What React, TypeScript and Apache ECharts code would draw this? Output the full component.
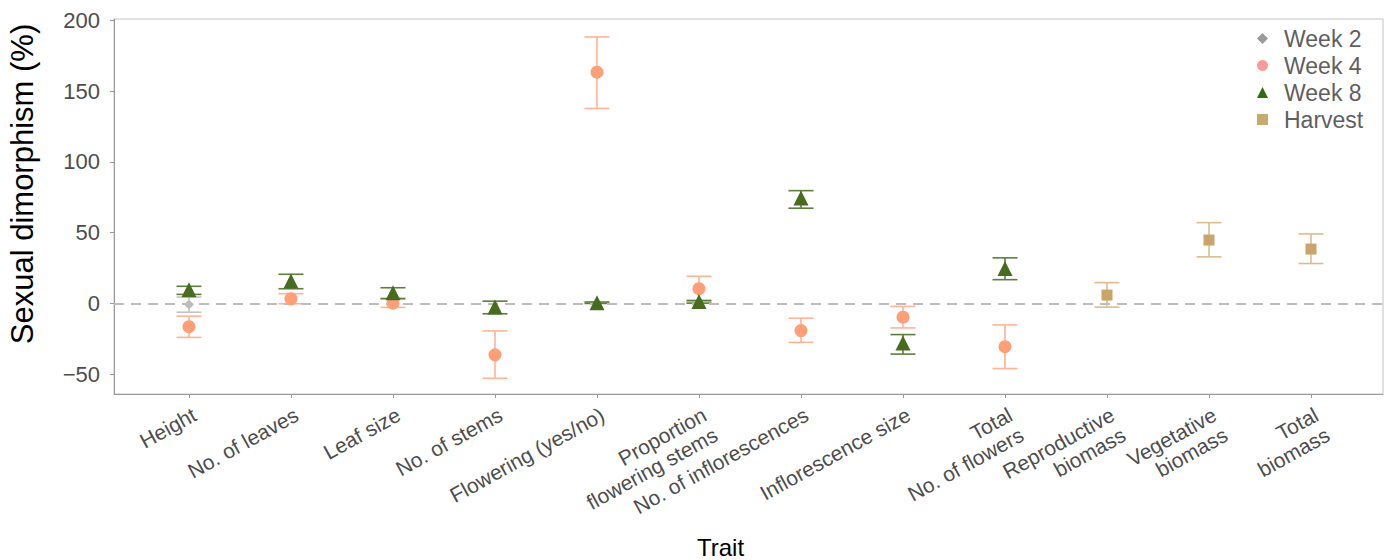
import React, { useEffect, useRef } from "react";
import * as echarts from "echarts";

const categories = [
  "Height",
  "No. of leaves",
  "Leaf size",
  "No. of stems",
  "Flowering (yes/no)",
  "Proportion\nflowering stems",
  "No. of inflorescences",
  "Inflorescence size",
  "Total\nNo. of flowers",
  "Reproductive\nbiomass",
  "Vegetative\nbiomass",
  "Total\nbiomass",
];

const yTicks = [-50, 0, 50, 100, 150, 200];

// [category index, mean, lower, upper]
const week2 = [[0, -0.7, -6.2, 4.5]];
const week4 = [
  [0, -16.4, -24, -9],
  [1, 3.3, -0.2, 6.9],
  [2, 0.2, -2.8, 3.8],
  [3, -36.3, -52.9, -19.4],
  [4, 163.4, 137.8, 188.3],
  [5, 10.4, 1.4, 19.2],
  [6, -19.2, -27.5, -10.4],
  [7, -9.7, -17.3, -2.1],
  [8, -30.6, -46, -15.2],
];
const week8 = [
  [0, 9.7, 6.4, 12.1],
  [1, 15.9, 10.4, 20.6],
  [2, 7.6, 3.3, 11.1],
  [3, -2.6, -7.3, 1.6],
  [4, 0.5, 0, 1],
  [5, 1.4, 0.2, 2.1],
  [6, 74.5, 67.3, 79.7],
  [7, -28, -35.8, -22],
  [8, 24.7, 16.8, 32.2],
];
const harvest = [
  [9, 5.9, -2.6, 14.7],
  [10, 44.8, 32.9, 57.1],
  [11, 38.4, 28.2, 49.1],
];

const FONT = "Liberation Sans, Arial, Helvetica, sans-serif";

function errorBars(name: string, data: number[][], color: string, z: number) {
  return {
    name: name + " SE",
    type: "custom",
    z,
    silent: true,
    data: data.map((d) => [d[0], d[2], d[3]]),
    encode: { x: 0, y: [1, 2] },
    renderItem: (params: any, api: any) => {
      const x = api.value(0);
      const lo = api.coord([x, api.value(1)]);
      const hi = api.coord([x, api.value(2)]);
      const half = 12.5;
      const style = { stroke: color, lineWidth: 1.6 };
      return {
        type: "group",
        children: [
          { type: "line", shape: { x1: lo[0], y1: lo[1], x2: hi[0], y2: hi[1] }, style },
          { type: "line", shape: { x1: lo[0] - half, y1: lo[1], x2: lo[0] + half, y2: lo[1] }, style },
          { type: "line", shape: { x1: hi[0] - half, y1: hi[1], x2: hi[0] + half, y2: hi[1] }, style },
        ],
      };
    },
  };
}

function points(name: string, data: number[][], symbol: string, size: number, color: string, z: number) {
  return {
    name,
    type: "scatter",
    z,
    symbol,
    symbolSize: size,
    itemStyle: { color, opacity: 1 },
    data: data.map((d) => [d[0], d[1]]),
  };
}

export default function App() {
  const ref = useRef<HTMLDivElement>(null);
  useEffect(() => {
    if (!ref.current) return;
    const chart = echarts.init(ref.current, undefined, { renderer: "svg" });
    const option: any = {
      animation: false,
      backgroundColor: "#ffffff",
      grid: {
        left: 114,
        right: 9,
        top: 19,
        bottom: 166,
        containLabel: false,
        outerBoundsMode: "none",
        show: true,
        borderColor: "#c4c4c4",
        borderWidth: 1,
      },
      legend: {
        orient: "vertical",
        left: 1252,
        top: 22,
        itemGap: 4,
        itemWidth: 11,
        itemHeight: 11,
        textStyle: { fontSize: 23, color: "#5f5f5f", fontFamily: FONT, padding: [0, 0, 0, 11] },
        data: [
          { name: "Week 2", icon: "diamond", itemStyle: { color: "#9a9a9a" } },
          { name: "Week 4", icon: "circle", itemStyle: { color: "#f99a9a" } },
          { name: "Week 8", icon: "triangle", itemStyle: { color: "#2f6b10" } },
          { name: "Harvest", icon: "rect", itemStyle: { color: "#c8aa70" } },
        ],
      },
      xAxis: {
        type: "value",
        min: -0.735,
        max: 11.706,
        name: "Trait",
        nameLocation: "middle",
        nameGap: 141,
        nameTextStyle: { fontSize: 24, color: "#000000", fontFamily: FONT, padding: [0, 56, 0, 0] },
        axisLine: { show: true, onZero: false, lineStyle: { color: "#9a9a9a", width: 1 } },
        axisTick: {
          show: true,
          length: 4,
          customValues: categories.map((_, i) => i),
          lineStyle: { color: "#9a9a9a" },
        },
        axisLabel: {
          customValues: categories.map((_, i) => i),
          rotate: 29,
          margin: 9,
          align: "right",
          verticalAlign: "top",
          fontSize: 21,
          lineHeight: 23,
          color: "#4d4d4d",
          fontFamily: FONT,
          formatter: (v: number) => categories[Math.round(v)],
        },
        splitLine: { show: false },
      },
      yAxis: {
        type: "value",
        min: -64,
        max: 201,
        name: "Sexual dimorphism (%)",
        nameLocation: "middle",
        nameGap: 76,
        nameTextStyle: { fontSize: 31, color: "#000000", fontFamily: FONT, padding: [0, 0, 0, 45] },
        axisLine: { show: true, onZero: false, lineStyle: { color: "#9a9a9a", width: 1 } },
        axisTick: { show: true, length: 4, customValues: yTicks, lineStyle: { color: "#9a9a9a" } },
        axisLabel: {
          customValues: yTicks,
          fontSize: 22,
          color: "#4d4d4d",
          fontFamily: FONT,
          margin: 14,
          formatter: (v: number) => (v < 0 ? "\u2212" + Math.abs(v) : String(v)),
        },
        splitLine: { show: false },
      },
      series: [
        {
          name: "zero",
          type: "line",
          data: [],
          silent: true,
          markLine: {
            silent: true,
            symbol: "none",
            label: { show: false },
            lineStyle: { color: "#bdbdbd", type: [10, 7], width: 1.8 },
            data: [{ yAxis: 0 }],
          },
        },
        errorBars("Week 4", week4, "#ffb397", 2),
        errorBars("Week 2", week2, "#c4c4c4", 3),
        errorBars("Week 8", week8, "#5f7d3c", 4),
        errorBars("Harvest", harvest, "#dcbd8e", 2),
        points("Week 4", week4, "circle", 13, "#ff9f78", 5),
        points("Week 2", week2, "diamond", 10, "#bdbdbd", 6),
        points("Week 8", week8, "triangle", 15, "#476b1f", 7),
        points("Harvest", harvest, "rect", 11, "#c9a56b", 5),
      ],
    };
    chart.setOption(option);
    return () => chart.dispose();
  }, []);
  return (
    <div
      ref={ref}
      style={{ position: "fixed", left: 0, top: 0, width: 1392, height: 560, background: "#fff" }}
    />
  );
}
